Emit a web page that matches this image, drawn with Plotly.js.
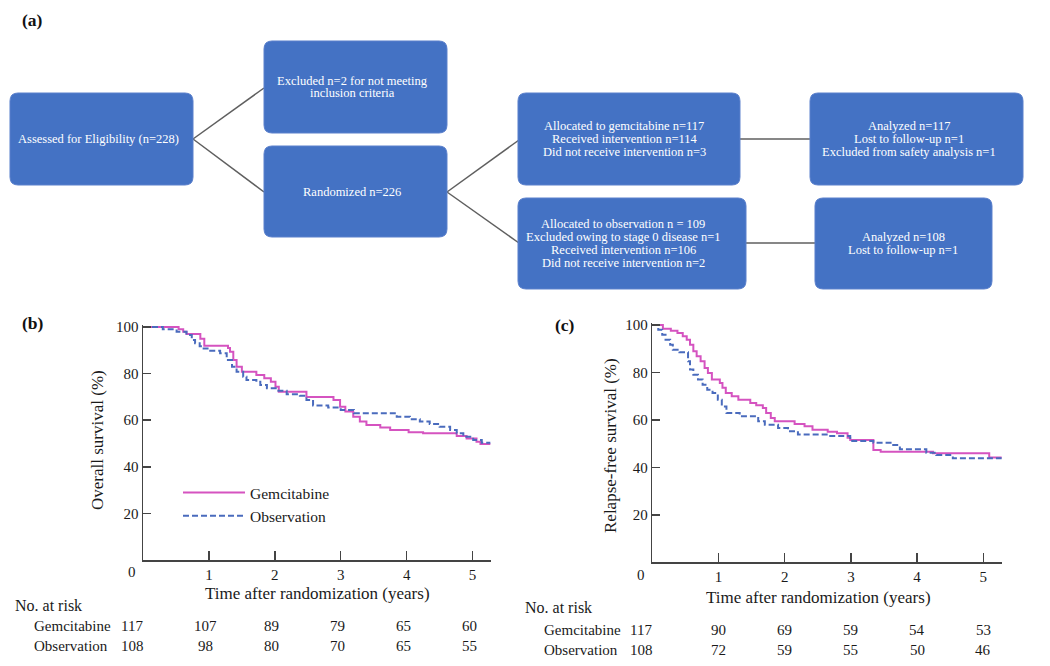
<!DOCTYPE html>
<html><head><meta charset="utf-8">
<script src="https://cdn.plot.ly/plotly-3.0.1.min.js"></script>
<style>html,body{margin:0;padding:0;background:#fff;}#chart{width:1050px;height:666px;}</style>
</head><body><div id="chart"></div>
<script>
// ---------- data ----------
const osGemT = [0,0.54,0.61,0.66,0.87,0.93,1.29,1.32,1.37,1.42,1.50,1.72,1.84,1.94,2.01,2.06,2.48,2.89,2.99,3.07,3.19,3.29,3.39,3.60,3.75,4.03,4.25,4.76,4.91,5.06,5.12,5.27];
const osGemS = [100,99,98,97,95,92,91,89.4,85.8,83,80.8,79.4,78,76.5,74.4,72.2,70,68.7,65.8,63.7,61.5,59.4,57.9,56.9,55.8,54.8,54.4,53.2,52.2,50.8,49.8,49.8];
const osObsT = [0,0.30,0.51,0.66,0.74,0.79,0.86,0.92,1.02,1.17,1.27,1.35,1.42,1.52,1.57,1.72,1.78,1.88,2.03,2.18,2.38,2.48,2.58,2.81,3.00,3.20,3.85,4.05,4.20,4.35,4.50,4.66,4.76,4.86,5.01,5.14,5.27];
const osObsS = [100,99,98,96.6,94.4,93,91.8,90.8,89.8,88.7,85.8,83,80.8,78.7,77.3,76.5,75.1,73.7,72.7,71.2,70.5,68.7,66.3,65.5,64.4,63,61.5,60.4,59.4,58.4,57.2,55.8,54.4,52.9,51.5,50.3,50.3];
const rfsGemT = [0,0.16,0.28,0.38,0.46,0.52,0.57,0.62,0.67,0.73,0.79,0.84,0.90,1.02,1.06,1.11,1.20,1.30,1.48,1.57,1.67,1.72,1.79,1.85,2.15,2.30,2.42,2.65,2.79,2.95,2.99,3.34,3.45,4.24,5.09,5.28];
const rfsGemS = [100,98.4,97.6,96.6,95.2,93.8,91.7,88.9,86.8,84.7,81.9,79.8,77,75.6,73.5,71.3,70,68.5,67.1,66.2,65,62.9,60.8,59.4,58.3,57.3,55.9,55,54.4,52.5,51.5,47.3,46.6,45.9,44.2,44.2];
const rfsObsT = [0,0.09,0.15,0.20,0.27,0.31,0.41,0.54,0.57,0.62,0.69,0.76,0.83,0.91,0.99,1.05,1.12,1.32,1.60,1.70,1.90,2.05,2.20,2.65,2.99,3.34,3.64,3.74,4.14,4.29,4.54,5.28];
const rfsObsS = [100,98,95.9,93.8,91.7,89.6,88.5,84.7,81.2,79,77,74.8,72.7,71.3,68.5,65.7,62.9,61.5,59.4,58,56.6,55.2,53.8,53.2,51.1,50.4,49.4,47.6,46.2,45.2,43.8,43.8];

const riskTimes = [0,1,2,3,4,5];
const osRiskGem = [117,107,89,79,65,60];
const osRiskObs = [108,98,80,70,65,55];
const rfsRiskGem = [117,90,69,59,54,53];
const rfsRiskObs = [108,72,59,55,50,46];
const xTicks = [1,2,3,4,5];
const yTicks = [20,40,60,80,100];
const seriesNames = ['Gemcitabine','Observation'];

// ---------- flowchart content ----------
const boxes = [
  {x0:10,y0:93,x1:193,y1:185,cx:98,lines:['Assessed for Eligibility (n=228)']},
  {x0:264,y0:41,x1:447,y1:133,cx:352,lines:['Excluded n=2 for not meeting','inclusion criteria']},
  {x0:264,y0:146,x1:447,y1:237,cx:352,lines:['Randomized n=226']},
  {x0:518,y0:93,x1:740,y1:185,cx:624,lines:['Allocated to gemcitabine n=117','Received intervention n=114','Did not receive intervention n=3']},
  {x0:518,y0:198,x1:746,y1:289,cx:623,lines:['Allocated to observation n = 109','Excluded owing to stage 0 disease n=1','Received intervention n=106','Did not receive intervention n=2']},
  {x0:810,y0:93,x1:1023,y1:185,cx:909,lines:['Analyzed n=117','Lost to follow-up n=1','Excluded from safety analysis n=1']},
  {x0:815,y0:198,x1:992,y1:289,cx:903,lines:['Analyzed n=108','Lost to follow-up n=1']}
];
const connectors = [[193,139,264,88],[193,139,264,192],[447,192,519,140],[447,192,519,243],[740,139,810,139],[746,243,815,243]];

// ---------- helpers ----------
const W=1050,H=666;
const px = x=>x/W, py = y=>1-y/H;
const SERIF = 'Liberation Serif, Times New Roman, serif';
const PINK = '#d553c0', BLUE = '#4a6bbd', BOXC = '#4472C4';

function rr(b,r){
  const P=(x,y)=>px(x).toFixed(5)+','+py(y).toFixed(5);
  const {x0,y0,x1,y1}=b;
  return 'M'+P(x0+r,y0)+' L'+P(x1-r,y0)+' Q'+P(x1,y0)+' '+P(x1,y0+r)+' L'+P(x1,y1-r)+' Q'+P(x1,y1)+' '+P(x1-r,y1)+' L'+P(x0+r,y1)+' Q'+P(x0,y1)+' '+P(x0,y1-r)+' L'+P(x0,y0+r)+' Q'+P(x0,y0)+' '+P(x0+r,y0)+' Z';
}

const shapes = [];
const annotations = [];
connectors.forEach(c=>shapes.push({type:'line',xref:'paper',yref:'paper',x0:px(c[0]),y0:py(c[1]),x1:px(c[2]),y1:py(c[3]),line:{color:'#5f5f5f',width:1.5},layer:'below'}));
boxes.forEach(b=>{
  shapes.push({type:'path',xref:'paper',yref:'paper',path:rr(b,8),fillcolor:BOXC,line:{color:'#5b80cc',width:1}});
  const n=b.lines.length, lh=12.8, cy=(b.y0+b.y1)/2;
  b.lines.forEach((t,i)=>{
    annotations.push({xref:'paper',yref:'paper',x:px(b.cx),y:py(cy+(i-(n-1)/2)*lh),text:t,showarrow:false,xanchor:'center',yanchor:'middle',font:{family:SERIF,size:12.5,color:'#ffffff'}});
  });
});

function txt(x,y,t,opt){
  annotations.push(Object.assign({xref:'paper',yref:'paper',x:px(x),y:py(y),text:t,showarrow:false,xanchor:'left',yanchor:'middle',font:{family:SERIF,size:15.5,color:'#1a1a1a'}},opt||{}));
}
const F = s=>({family:SERIF,size:s,color:'#1a1a1a'});
// panel labels
txt(20,20,'<b>(a)</b>',{font:{family:SERIF,size:17.5,color:'#111'}});
txt(20,323,'<b>(b)</b>',{font:{family:SERIF,size:17.5,color:'#111'}});
txt(553,325,'<b>(c)</b>',{font:{family:SERIF,size:17.5,color:'#111'}});
// axis titles
txt(317,593,'Time after randomization (years)',{xanchor:'center',font:F(17)});
txt(818,597,'Time after randomization (years)',{xanchor:'center',font:F(17)});
txt(97,440,'Overall survival (%)',{xanchor:'center',textangle:-90,font:F(17)});
txt(610,446,'Relapse-free survival (%)',{xanchor:'center',textangle:-90,font:F(17)});
// origin labels
txt(132,572,'0',{xanchor:'center',font:F(15)});
txt(641,575,'0',{xanchor:'center',font:F(15)});
// risk tables
txt(13,605,'No. at risk',{font:F(16)});
txt(32,626,seriesNames[0],{font:F(15)});
txt(32,646,seriesNames[1],{font:F(15)});
txt(523,607,'No. at risk',{font:F(16)});
txt(542,630,seriesNames[0],{font:F(15)});
txt(542,650,seriesNames[1],{font:F(15)});
function riskRow(xr,vals,yPix,shift0,shift){
  vals.forEach((v,i)=>annotations.push({xref:xr,yref:'paper',x:riskTimes[i],y:py(yPix),xshift:i===0?shift0:shift,text:String(v),showarrow:false,xanchor:'center',yanchor:'middle',font:F(15)}));
}
riskRow('x',osRiskGem,626,-11,-3);
riskRow('x',osRiskObs,646,-11,-3);
riskRow('x2',rfsRiskGem,630,-11,0);
riskRow('x2',rfsRiskObs,650,-11,0);

const traces = [
  {x:osGemT,y:osGemS,xaxis:'x',yaxis:'y',name:seriesNames[0],mode:'lines',line:{shape:'hv',color:PINK,width:2},showlegend:true},
  {x:osObsT,y:osObsS,xaxis:'x',yaxis:'y',name:seriesNames[1],mode:'lines',line:{shape:'hv',color:BLUE,width:2,dash:'6px,3px'},showlegend:true},
  {x:rfsGemT,y:rfsGemS,xaxis:'x2',yaxis:'y2',name:seriesNames[0],mode:'lines',line:{shape:'hv',color:PINK,width:2},showlegend:false},
  {x:rfsObsT,y:rfsObsS,xaxis:'x2',yaxis:'y2',name:seriesNames[1],mode:'lines',line:{shape:'hv',color:BLUE,width:2,dash:'6px,3px'},showlegend:false}
];

const axX = {range:[0,5.28],tickvals:xTicks,ticktext:xTicks.map(String),ticks:'inside',ticklen:9,tickwidth:1.5,tickcolor:'#444',showline:true,linecolor:'#444',linewidth:1.5,showgrid:false,zeroline:false,tickfont:F(15),fixedrange:true};
const axY = {range:[0,101],tickvals:yTicks,ticktext:yTicks.map(String),ticks:'inside',ticklen:8,tickwidth:1.5,tickcolor:'#444',showline:true,linecolor:'#444',linewidth:1.5,showgrid:false,zeroline:false,tickfont:F(15),fixedrange:true};

const layout = {
  width:W,height:H,margin:{l:0,r:0,t:0,b:0},paper_bgcolor:'#fff',plot_bgcolor:'rgba(0,0,0,0)',
  xaxis:Object.assign({},axX,{domain:[px(143),px(491)],anchor:'y'}),
  yaxis:Object.assign({},axY,{domain:[py(560),py(324.7)],anchor:'x'}),
  xaxis2:Object.assign({},axX,{domain:[px(652.3),px(1001.8)],anchor:'y2'}),
  yaxis2:Object.assign({},axY,{domain:[py(562.3),py(322.6)],anchor:'x2'}),
  showlegend:true,
  legend:{x:px(178),y:py(476),xanchor:'left',yanchor:'top',bgcolor:'rgba(0,0,0,0)',font:{family:SERIF,size:15.5,color:'#1a1a1a'},itemwidth:62,tracegroupgap:0},
  shapes:shapes,annotations:annotations
};
Plotly.newPlot('chart',traces,layout,{staticPlot:true,displayModeBar:false});
</script></body></html>
